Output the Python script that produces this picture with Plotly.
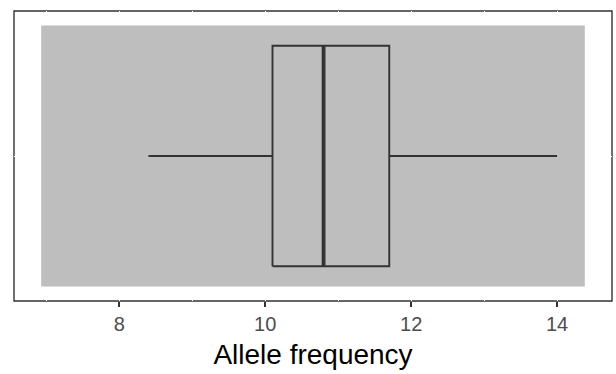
import plotly.graph_objects as go

# Data
rect_x = [6.93, 14.38]          # extent of shaded region (data limits)
box_q1 = [10.10]
box_median = [10.80]
box_q3 = [11.70]
box_lower = [8.40]
box_upper = [14.00]
tick_vals = [8, 10, 12, 14]
tick_text = ["8", "10", "12", "14"]
x_title = "Allele frequency"

span = rect_x[1] - rect_x[0]
x_range = [rect_x[0] - 0.05 * span, rect_x[1] + 0.05 * span]
rect_half = 0.9
box_half = 0.76
line_col = "#333333"

fig = go.Figure()

# grey shaded region
fig.add_trace(go.Scatter(
    x=[rect_x[0], rect_x[1], rect_x[1], rect_x[0], rect_x[0]],
    y=[-rect_half, -rect_half, rect_half, rect_half, -rect_half],
    mode="lines", fill="toself", fillcolor="#bebebe",
    line=dict(width=0, color="#bebebe"), hoverinfo="skip", showlegend=False))

q1, q3, med, lo, hi = box_q1[0], box_q3[0], box_median[0], box_lower[0], box_upper[0]

# whiskers
fig.add_trace(go.Scatter(
    x=[lo, q1, None, q3, hi], y=[0, 0, None, 0, 0],
    mode="lines", line=dict(color=line_col, width=1.9),
    hoverinfo="skip", showlegend=False))

# box
fig.add_trace(go.Scatter(
    x=[q1, q3, q3, q1, q1], y=[-box_half, -box_half, box_half, box_half, -box_half],
    mode="lines", line=dict(color=line_col, width=1.9),
    hoverinfo="skip", showlegend=False))

# thicker median (ggplot fatten)
fig.add_trace(go.Scatter(
    x=[med, med], y=[-box_half, box_half],
    mode="lines", line=dict(color=line_col, width=3.8),
    hoverinfo="skip", showlegend=False))

fig.update_layout(
    width=616, height=374,
    margin=dict(l=14, r=4, t=11, b=73),
    paper_bgcolor="white", plot_bgcolor="white",
    font=dict(family="Liberation Sans, Arial, sans-serif"),
    shapes=[dict(type="rect", xref="paper", yref="paper", x0=0, x1=1, y0=0, y1=1,
                 line=dict(color="#333333", width=1.4), layer="below")],
    xaxis=dict(
        range=x_range, tickvals=tick_vals, ticktext=tick_text,
        showgrid=True, gridcolor="white", gridwidth=1.3,
        minor=dict(dtick=1, tick0=7, showgrid=True, gridcolor="white", gridwidth=1.3, ticks=""),
        ticks="outside", ticklen=5, tickwidth=1.5, tickcolor="#333333",
        tickfont=dict(size=20, color="#4d4d4d"),
        zeroline=False, showline=False, automargin=False,
        title=dict(text=x_title, font=dict(size=28, color="black"), standoff=10),
    ),
    yaxis=dict(
        range=[-1, 1], tickvals=[0], showticklabels=False, ticks="",
        showgrid=True, gridcolor="white", gridwidth=1.3,
        zeroline=False, showline=False, automargin=False,
    ),
)

fig.write_html("out.html", config={"displayModeBar": False},
               post_script="document.body.style.margin='0';")
